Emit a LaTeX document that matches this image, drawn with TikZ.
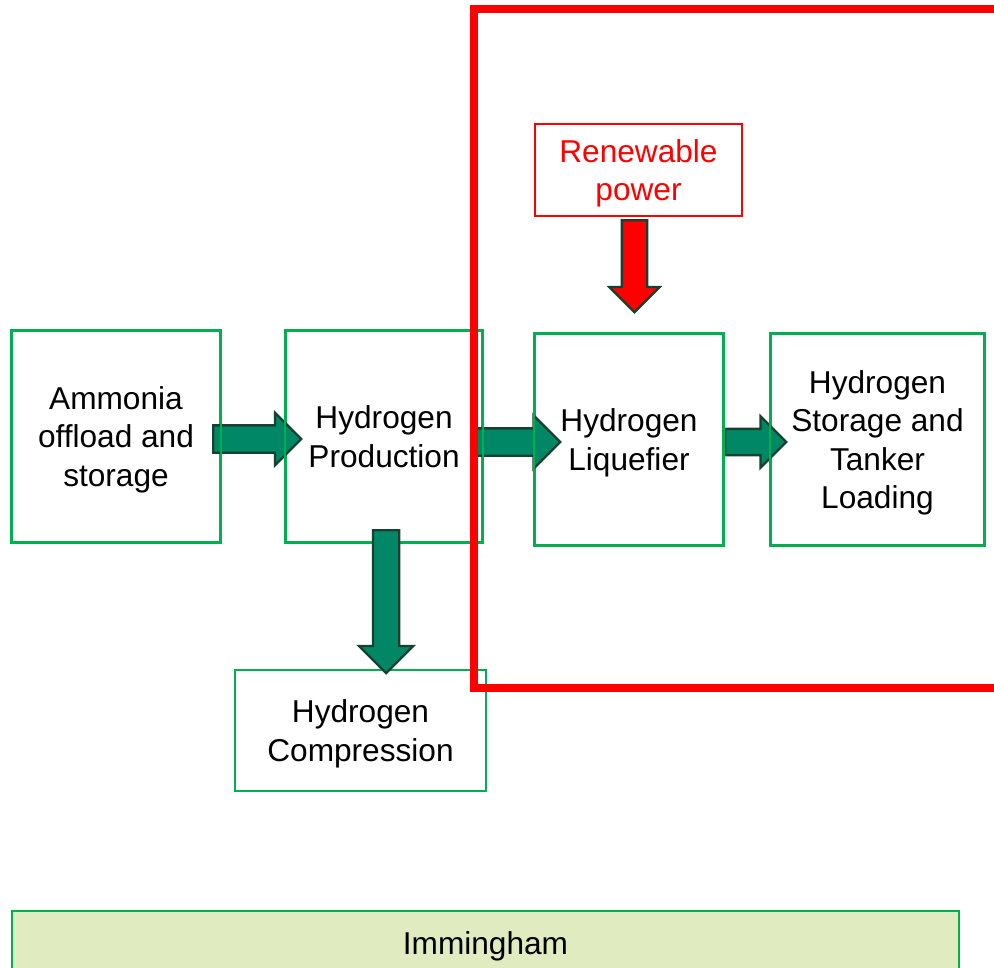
\documentclass[tikz,border=0pt]{standalone}
\usepackage{fontspec}
\setmainfont{Liberation Sans}
\usepackage{tikz}
\usetikzlibrary{shapes.arrows, positioning, calc}
\definecolor{BoxGreen}  {HTML}{00B050}
\definecolor{ArrowTeal} {HTML}{008866}
\definecolor{ArrowEdge} {HTML}{17402F}
\definecolor{SiteFill}  {HTML}{E0EBC0}
\definecolor{RedFrame}  {HTML}{FF0000}

\begin{document}
\begin{tikzpicture}[
  x=0.02cm, y=-0.02cm,
  node distance = 1.1cm and 1.28cm,
  box/.style    = {draw=BoxGreen, line width=1.2pt, align=center,
                   minimum height=4.22cm, inner sep=2pt, text depth=0pt,
                   font=\fontsize{18}{21.8}\selectfont},
  rbox/.style   = {box, draw=RedFrame, text=RedFrame},
  site/.style   = {box, fill=SiteFill, minimum height=1.28cm},
  blk/.style    = {single arrow, draw=ArrowEdge, fill=ArrowTeal,
                   line width=1.3pt, anchor=tail, inner sep=0.25cm,
                   single arrow head extend=0.25cm},
  rblk/.style   = {blk, fill=RedFrame},
  frame/.style  = {draw=RedFrame, line width=4.5pt},
]
\useasboundingbox (0,0) rectangle (994,967);
\clip (0,0) rectangle (994,967);
\node[box, minimum width=4.16cm] (amm) at (116,436.5) {Ammonia\\offload and\\storage};
\node[box, minimum width=3.92cm, right=1.28cm of amm] (prod) {Hydrogen\\Production};
\node[box, minimum width=3.76cm] (liq) at (629,439.5) {Hydrogen\\Liquefier};
\node[box, minimum width=4.26cm] (stor) at (877.5,439.5) {Hydrogen\\Storage and\\Tanker\\Loading};
\node[rbox, minimum width=4.14cm, minimum height=1.84cm] (ren) at (638.5,170) {Renewable\\power};
\node[box, minimum width=5.02cm, minimum height=2.42cm] (comp) at (360.5,730.5) {Hydrogen\\Compression};
\node[site, minimum width=18.94cm] (imm) at (485.5,943) {Immingham};
\node[blk, minimum height=1.76cm] (a1) at ([xshift=-0.18cm, yshift=-0.05cm]amm.east) {};
\node[blk, minimum height=1.76cm, single arrow head extend=0.26cm] (a2)
  at ([xshift=-0.24cm, yshift=-0.11cm]prod.east) {};
\node[blk, minimum height=1.22cm, inner sep=0.24cm] (a3) at ([yshift=-0.05cm]liq.east) {};
\draw[draw=BoxGreen, line width=1.2pt] (amm.north west) rectangle (amm.south east);
\draw[draw=BoxGreen, line width=1.2pt] (prod.north west) rectangle (prod.south east);
\draw[draw=BoxGreen, line width=1.2pt] (liq.north west) rectangle (liq.south east);
\draw[draw=BoxGreen, line width=1.2pt] (stor.north west) rectangle (stor.south east);
\node[blk, rotate=-90, minimum height=2.86cm, inner sep=0.24cm,
      single arrow head extend=0.28cm] (a4) at ([xshift=0.04cm, yshift=0.28cm]prod.south) {};
\node[rblk, rotate=-90, minimum height=1.84cm, inner sep=0.23cm] (a5)
  at ([xshift=-0.08cm, yshift=-0.04cm]ren.south) {};
\draw[frame] (1100,688) -- (474,688) -- (474,9) -- (1100,9);
\end{tikzpicture}
\end{document}
